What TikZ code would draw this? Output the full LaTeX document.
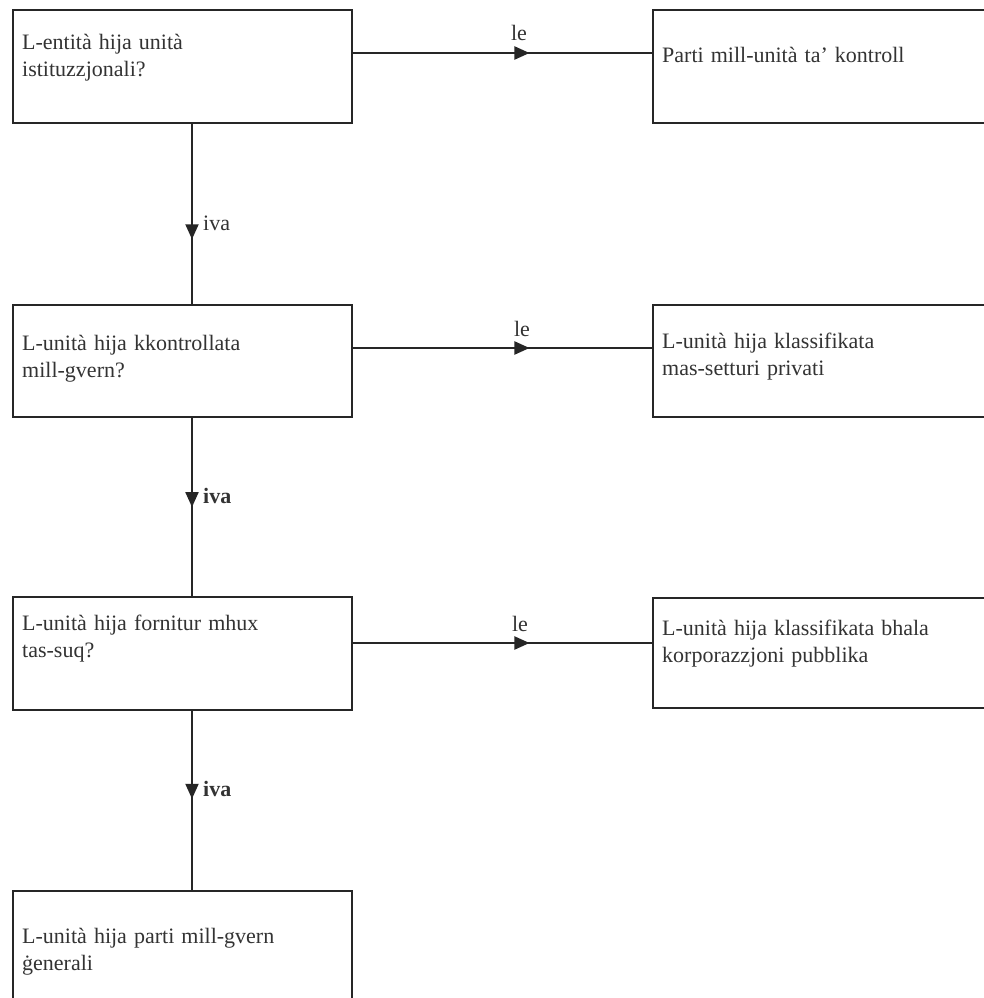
\documentclass[tikz,border=0pt]{standalone}
\usepackage{fontspec}
\setmainfont{Liberation Serif}
\usetikzlibrary{decorations.markings,arrows.meta}
\definecolor{linec}{HTML}{262626}
\definecolor{textc}{HTML}{333333}
\newcommand\twoline[1]{\begin{tabular}[t]{@{}l@{}}#1\end{tabular}}
\newcommand\mfont{\fontsize{22}{27}\selectfont\spaceskip=0.32em plus 0.1em\relax}
\begin{document}
\begin{tikzpicture}[x=1pt,y=-1pt,
  box/.style={draw=linec, line width=2.2pt, rectangle, inner sep=0pt, anchor=north west, minimum width=339pt, minimum height=113pt},
  rbox/.style={box, minimum width=360pt},
  txt/.style={anchor=base west, inner sep=0pt, text=textc, font=\mfont},
  lab/.style={anchor=base, inner sep=0pt, text=textc, font=\mfont},
  ivalab/.style={anchor=base west, inner sep=0pt, text=textc, font=\mfont},
  conn/.style={draw=linec, line width=2pt},
  arrmark/.style={postaction={decorate, decoration={markings, mark=at position #1 with {\arrow[linec]{Triangle[length=15pt,width=13pt]}}}}},
]
\clip (0,0) rectangle (984,998);
\fill[white] (0,0) rectangle (984,998);

% boxes
\node[box] (b1) at (12,9) {};
\node[rbox] (r1) at (652,9) {};
\node[box, minimum height=112pt] (b2) at (12,304) {};
\node[rbox, minimum height=112pt] (r2) at (652,304) {};
\node[box] (b3) at (12,596) {};
\node[rbox, minimum height=110pt] (r3) at (652,597) {};
\node[box, minimum height=130pt] (b4) at (12,890) {};

% texts
\node[txt] (t1) at (22,50) {\twoline{L-entità hija unità\\ istituzzjonali?}};
\node[txt] (tr1) at (662,63) {Parti mill-unità ta' kontroll};
\node[txt] (t2) at (22,350) {\twoline{L-unità hija kkontrollata\\ mill-gvern?}};
\node[txt] (tr2) at (662,348) {\twoline{L-unità hija klassifikata\\ mas-setturi privati}};
\node[txt] (t3) at (22,630) {\twoline{L-unità hija fornitur mhux\\ tas-suq?}};
\node[txt] (tr3) at (662,635) {\twoline{L-unità hija klassifikata bhala\\ korporazzjoni pubblika}};
\node[txt] (t4) at (22,943) {\twoline{L-unità hija parti mill-gvern\\ ġenerali}};

% horizontal connectors
\draw[conn, arrmark=0.59] ([yshift=-44pt]b1.north east) -- ([yshift=-44pt]r1.north west);
\draw[conn, arrmark=0.59] ([yshift=-44pt]b2.north east) -- ([yshift=-44pt]r2.north west);
\draw[conn, arrmark=0.59] ([yshift=-47pt]b3.north east) -- ([yshift=-46pt]r3.north west);

% vertical connectors
\draw[conn, arrmark=0.64] ([xshift=180pt]b1.south west) -- ([xshift=180pt]b2.north west);
\draw[conn, arrmark=0.50] ([xshift=180pt]b2.south west) -- ([xshift=180pt]b3.north west);
\draw[conn, arrmark=0.49] ([xshift=180pt]b3.south west) -- ([xshift=180pt]b4.north west);

% labels
\node[lab] (le1) at (519,41) {le};
\node[lab] (le2) at (522,336) {le};
\node[lab] (le3) at (520,631) {le};
\node[ivalab] (iva1) at (203,230) {iva};
\node[ivalab] (iva2) at (203,503) {\bfseries iva};
\node[ivalab] (iva3) at (203,796) {\bfseries iva};
\end{tikzpicture}
\end{document}
